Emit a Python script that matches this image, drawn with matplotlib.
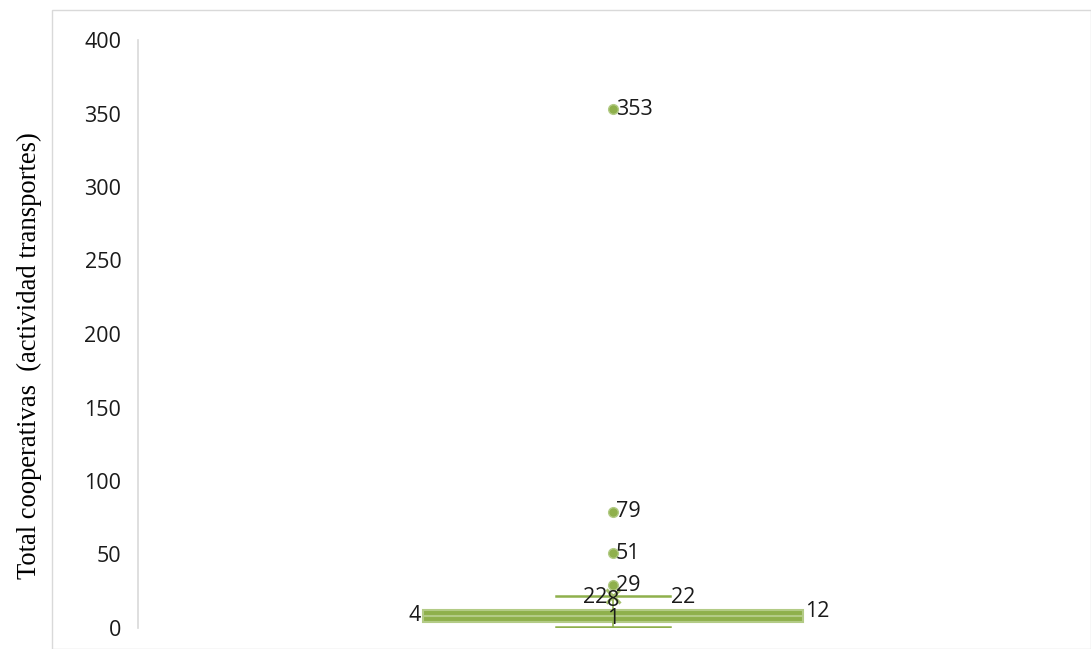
import matplotlib
matplotlib.use("Agg")
from matplotlib import pyplot as plt
from matplotlib.patches import Rectangle

# box-and-whisker summary
stat_min = 1
stat_q1 = 4
stat_med = 8
stat_q3 = 12
stat_max = 22
stat_mean = 22
outliers = [29, 51, 79, 353]

yticks = [0, 50, 100, 150, 200, 250, 300, 350, 400]
ylabel = "Total cooperativas  (actividad transportes)"

green = "#8fb04c"
green_light = "#b3cb86"
txt = "#1a1a1a"
fs = 15.5

fig = plt.figure(figsize=(10.91, 6.49), dpi=100)
fig.patches.append(Rectangle((52 / 1091, 0), 1 - 52 / 1091, 1 - 10 / 649,
                             transform=fig.transFigure, fill=False,
                             edgecolor="#d9d9d9", linewidth=1))
ax = fig.add_axes([138 / 1091, 21 / 649, 950 / 1091, 588 / 649])

stats = [{
    "whislo": stat_min, "q1": stat_q1, "med": stat_med, "q3": stat_q3,
    "whishi": stat_max, "mean": stat_mean, "fliers": outliers,
}]
ax.bxp(stats, positions=[0.5], widths=0.401, capwidths=0.119,
       showmeans=True, patch_artist=True,
       boxprops=dict(facecolor=green, edgecolor=green_light, linewidth=1.5),
       medianprops=dict(color=green_light, linewidth=1.5),
       whiskerprops=dict(color=green, linewidth=1.2),
       capprops=dict(color=green, linewidth=1.8),
       meanprops=dict(marker="x", markeredgecolor="#a5c06e", markersize=10,
                      markeredgewidth=2.2),
       flierprops=dict(marker="o", markerfacecolor=green, markeredgecolor=green_light,
                       markersize=7, markeredgewidth=1))

lab = dict(fontsize=fs, color=txt, family="Open Sans", textcoords="offset points")
for v in outliers:
    ax.annotate(str(v), (0.5, v), xytext=(2, 0), ha="left", va="center", **lab)
ax.annotate(str(stat_mean), (0.5, stat_mean), xytext=(-4, -1), ha="right", va="center", **lab)
ax.annotate(str(stat_max), (0.5 + 0.119 / 2, stat_max), xytext=(1, -1), ha="left", va="center", **lab)
ax.annotate(str(stat_med), (0.5, stat_med), xytext=(0, 11), ha="center", va="center", **lab)
ax.annotate(str(stat_min), (0.5, stat_min), xytext=(0, 6), ha="center", va="center", **lab)
ax.annotate(str(stat_q1), (0.5 - 0.401 / 2, stat_q1), xytext=(-1, 5), ha="right", va="center", **lab)
ax.annotate(str(stat_q3), (0.5 + 0.401 / 2, stat_q3), xytext=(1, -1), ha="left", va="center", **lab)

ax.set_xlim(0, 1)
ax.set_ylim(0, 400)
ax.set_yticks(yticks)
ax.set_yticklabels([str(t) for t in yticks], fontsize=fs, color=txt, family="Open Sans")
ax.set_xticks([])
ax.tick_params(axis="y", length=0, pad=12)
for s in ["top", "right", "bottom"]:
    ax.spines[s].set_visible(False)
ax.spines["left"].set_color("#d9d9d9")
ax.spines["left"].set_linewidth(1.2)
ax.set_ylabel(ylabel, family="Liberation Serif", fontsize=19.2, color="black")
ax.yaxis.set_label_coords(-0.101, 0.464)
ax.patch.set_alpha(0)

fig.savefig("out.png", dpi=100)
